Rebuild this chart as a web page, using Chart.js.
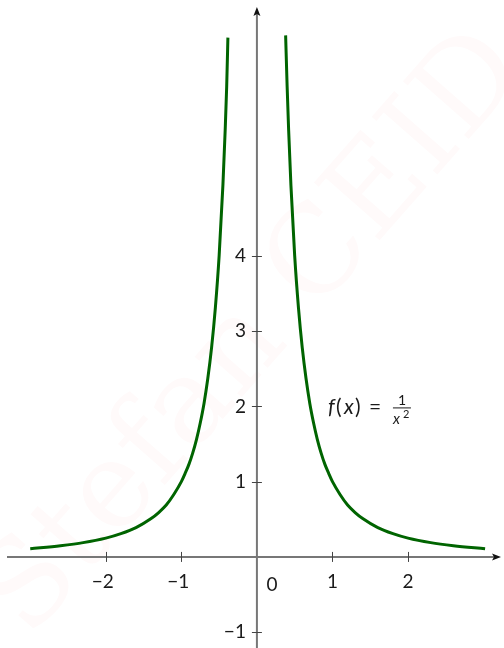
<!DOCTYPE html>
<html>
<head>
<meta charset="utf-8">
<script src="https://cdn.jsdelivr.net/npm/chart.js@4.4.1/dist/chart.umd.min.js"></script>
<style>
  html, body { margin: 0; padding: 0; background: #fff; }
  #grafico { display: block; }
</style>
</head>
<body>
<canvas id="grafico" width="504" height="648"></canvas>
<script>
// pontos da curva f(x) = 1/x^2, ramo da esquerda e ramo da direita
const ramoEsqX = [-3.0, -2.6, -2.3, -2.0, -1.8, -1.6, -1.4, -1.3, -1.2, -1.1, -1.0, -0.95, -0.9, -0.85, -0.8, -0.75, -0.7, -0.65, -0.6, -0.55, -0.5, -0.45, -0.42, -0.4, -0.384];
const ramoEsqY = [0.11, 0.15, 0.19, 0.25, 0.31, 0.39, 0.51, 0.59, 0.69, 0.83, 1.0, 1.11, 1.23, 1.38, 1.56, 1.78, 2.04, 2.37, 2.78, 3.31, 4.0, 4.94, 5.67, 6.25, 6.9];
const ramoDirX = [0.38, 0.4, 0.42, 0.45, 0.5, 0.55, 0.6, 0.65, 0.7, 0.75, 0.8, 0.85, 0.9, 0.95, 1.0, 1.1, 1.2, 1.3, 1.4, 1.6, 1.8, 2.0, 2.3, 2.6, 3.02];
const ramoDirY = [6.93, 6.25, 5.67, 4.94, 4.0, 3.31, 2.78, 2.37, 2.04, 1.78, 1.56, 1.38, 1.23, 1.11, 1.0, 0.83, 0.69, 0.59, 0.51, 0.39, 0.31, 0.25, 0.19, 0.15, 0.11];

// marcas dos eixos
const ticksX = [-2, -1, 1, 2];
const ticksY = [-1, 1, 2, 3, 4];
const limitesX = [-3.40, 3.27];
const limitesY = [-1.21, 7.40];

const fonte = 'Lato, "Open Sans", sans-serif';
const corEixo = '#777777';

function juntaPontos(xs, ys) {
  return xs.map((x, i) => ({ x: x, y: ys[i] }));
}

// desenha a marca d'agua, os eixos com setas, as marcas e a legenda da funcao
const eixosPlugin = {
  id: 'eixos',
  beforeDatasetsDraw(chart) {
    const ctx = chart.ctx;
    const sx = chart.scales.x;
    const sy = chart.scales.y;
    const x0 = sx.getPixelForValue(0);
    const y0 = sy.getPixelForValue(0);
    const area = chart.chartArea;

    // marca d'agua
    ctx.save();
    ctx.translate(255, 335);
    ctx.rotate(-0.85);
    ctx.font = '120px "DejaVu Serif", "Liberation Serif", serif';
    ctx.fillStyle = 'rgba(240, 60, 60, 0.025)';
    ctx.textAlign = 'center';
    ctx.textBaseline = 'middle';
    ctx.fillText('Stefan CEID', 0, 0);
    ctx.restore();

    ctx.save();
    ctx.strokeStyle = corEixo;
    ctx.lineWidth = 2;
    ctx.beginPath();
    ctx.moveTo(area.left + 7, y0);
    ctx.lineTo(area.right - 8, y0);
    ctx.moveTo(x0, area.bottom);
    ctx.lineTo(x0, area.top + 12);
    ctx.stroke();

    // setas
    ctx.fillStyle = '#111';
    ctx.beginPath();
    ctx.moveTo(area.right - 3, y0);
    ctx.lineTo(area.right - 12, y0 - 3.5);
    ctx.lineTo(area.right - 10, y0);
    ctx.lineTo(area.right - 12, y0 + 3.5);
    ctx.closePath();
    ctx.fill();
    ctx.beginPath();
    ctx.moveTo(x0, area.top + 7);
    ctx.lineTo(x0 - 3.5, area.top + 16);
    ctx.lineTo(x0, area.top + 14);
    ctx.lineTo(x0 + 3.5, area.top + 16);
    ctx.closePath();
    ctx.fill();

    // marcas e rotulos
    ctx.strokeStyle = '#444';
    ctx.lineWidth = 1;
    ctx.fillStyle = '#1a1a1a';
    ctx.font = '19px ' + fonte;
    ctx.beginPath();
    ticksX.forEach(v => {
      const px = Math.round(sx.getPixelForValue(v)) + 0.5;
      ctx.moveTo(px, y0 - 5);
      ctx.lineTo(px, y0 + 5);
    });
    ticksY.forEach(v => {
      const py = Math.round(sy.getPixelForValue(v)) + 0.5;
      ctx.moveTo(x0 - 5, py);
      ctx.lineTo(x0 + 5, py);
    });
    ctx.stroke();

    ctx.textAlign = 'center';
    ctx.textBaseline = 'middle';
    ticksX.forEach(v => {
      const txt = v < 0 ? '\u2212' + Math.abs(v) : String(v);
      const desloc = v < 0 ? -3 : 0;
      ctx.fillText(txt, sx.getPixelForValue(v) + desloc, y0 + 25);
    });
    ctx.textAlign = 'right';
    ticksY.forEach(v => {
      const txt = v < 0 ? '\u2212' + Math.abs(v) : String(v);
      ctx.fillText(txt, x0 - 11, sy.getPixelForValue(v));
    });
    ctx.textAlign = 'center';
    ctx.fillText('0', x0 + 15, y0 + 28);
    ctx.restore();
  },
  afterDatasetsDraw(chart) {
    const ctx = chart.ctx;
    const px = chart.scales.x.getPixelForValue(0.94);
    const py = chart.scales.y.getPixelForValue(2.0);
    ctx.save();
    ctx.fillStyle = '#1a1a1a';
    ctx.textBaseline = 'alphabetic';
    ctx.textAlign = 'left';
    ctx.font = 'italic 21px ' + fonte;
    ctx.fillText('f', px, py + 8);
    ctx.font = '21px ' + fonte;
    ctx.fillText('(', px + 8, py + 8);
    ctx.font = 'italic 21px ' + fonte;
    ctx.fillText('x', px + 16, py + 8);
    ctx.font = '21px ' + fonte;
    ctx.fillText(')', px + 27, py + 8);
    ctx.fillText('=', px + 41, py + 8);
    // fracao 1/x²
    ctx.textAlign = 'center';
    ctx.font = '14px ' + fonte;
    ctx.fillText('1', px + 74, py - 1);
    ctx.strokeStyle = '#1a1a1a';
    ctx.lineWidth = 1;
    ctx.beginPath();
    ctx.moveTo(px + 65, py + 1.5);
    ctx.lineTo(px + 83, py + 1.5);
    ctx.stroke();
    ctx.textAlign = 'left';
    ctx.font = 'italic 15px ' + fonte;
    ctx.fillText('x', px + 65, py + 18);
    ctx.font = '11px ' + fonte;
    ctx.fillText('2', px + 75, py + 12);
    ctx.restore();
  }
};

const grafico = document.getElementById('grafico');

const graficoFuncao = new Chart(grafico, {
  type: 'scatter',
  data: {
    datasets: [
      {
        label: 'esquerda',
        data: juntaPontos(ramoEsqX, ramoEsqY),
        showLine: true,
        borderColor: '#006400',
        borderWidth: 3,
        pointRadius: 0,
        cubicInterpolationMode: 'monotone'
      },
      {
        label: 'direita',
        data: juntaPontos(ramoDirX, ramoDirY),
        showLine: true,
        borderColor: '#006400',
        borderWidth: 3,
        pointRadius: 0,
        cubicInterpolationMode: 'monotone'
      }
    ]
  },
  options: {
    responsive: false,
    animation: false,
    layout: { padding: 0 },
    plugins: {
      legend: { display: false },
      tooltip: { enabled: false }
    },
    scales: {
      x: { type: 'linear', min: limitesX[0], max: limitesX[1], display: false },
      y: { type: 'linear', min: limitesY[0], max: limitesY[1], display: false }
    }
  },
  plugins: [eixosPlugin]
});
</script>
</body>
</html>
